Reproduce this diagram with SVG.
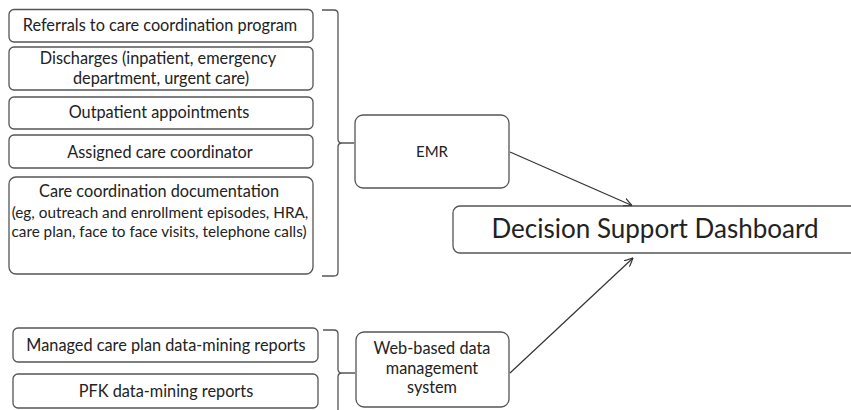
<svg xmlns="http://www.w3.org/2000/svg" width="851" height="410" viewBox="0 0 851 410">
<style>
.box{fill:#fff;stroke:#555;stroke-width:1.3}
.t{font-family:Lato,"Liberation Sans",sans-serif;fill:#222;text-anchor:middle;font-size:16.3px}
.s{font-size:15.3px}
.br{fill:none;stroke:#555;stroke-width:1.3}
.c{fill:none;stroke:#333;stroke-width:1.2}
</style>
<defs>
<marker id="ah" viewBox="0 0 10 10" refX="9.5" refY="5" markerWidth="9" markerHeight="9" orient="auto" markerUnits="userSpaceOnUse">
<path d="M0,0.5 L9.5,5 L0,9.5" fill="none" stroke="#333" stroke-width="1.3"/>
</marker>
</defs>
<rect width="851" height="410" fill="#fff"/>
<g id="n-referrals"><rect class="box" x="9" y="9.5" width="304" height="32.5" rx="5"/><text class="t" x="160" y="31">Referrals to care coordination program</text></g>
<g id="n-discharges"><rect class="box" x="9" y="47" width="304" height="43" rx="5"/><text class="t" x="158" y="64">Discharges (inpatient, emergency</text><text class="t" x="161" y="83.5">department, urgent care)</text></g>
<g id="n-outpatient"><rect class="box" x="9" y="97" width="304" height="32" rx="5"/><text class="t" x="159" y="118">Outpatient appointments</text></g>
<g id="n-assigned"><rect class="box" x="9" y="135" width="304" height="33" rx="5"/><text class="t" x="160" y="157.5">Assigned care coordinator</text></g>
<g id="n-documentation"><rect class="box" x="9" y="177" width="304" height="97" rx="7"/><text class="t" x="159" y="197">Care coordination documentation</text><text class="t s" x="160" y="217.5">(eg, outreach and enrollment episodes, HRA,</text><text class="t s" x="159" y="236.5">care plan, face to face visits, telephone calls)</text></g>
<g id="n-emr"><rect class="box" x="355" y="115" width="154" height="73" rx="8"/><text class="t" x="432" y="157" style="font-size:15px">EMR</text></g>
<g id="n-dashboard"><rect class="box" x="453" y="206" width="410" height="47" rx="7"/><text class="t" x="655" y="238" style="font-size:26px">Decision Support Dashboard</text></g>
<g id="n-managed"><rect class="box" x="13" y="328" width="305" height="34" rx="5"/><text class="t" x="166" y="351">Managed care plan data-mining reports</text></g>
<g id="n-pfk"><rect class="box" x="13" y="374" width="305" height="34" rx="5"/><text class="t" x="166" y="397">PFK data-mining reports</text></g>
<g id="n-web"><rect class="box" x="356" y="332" width="153" height="75" rx="8"/><text class="t" x="432" y="353.5">Web-based data</text><text class="t" x="432" y="373.5">management</text><text class="t" x="432" y="393">system</text></g>
<g id="connectors">
<path class="br" d="M322,10 L334,10 Q338,10 338,14 L338,139 Q338,143 342,143 L354,143 M342,143 Q338,143 338,147 L338,272 Q338,276 334,276 L322,276"/>
<path class="br" d="M323,330 L334,330 Q338,330 338,334 L338,369 Q338,373 342,373 L355,373 M342,373 Q338,373 338,377 L338,412"/>
<line class="c" x1="510" y1="152" x2="632" y2="205.5" marker-end="url(#ah)"/>
<line class="c" x1="510" y1="373" x2="633" y2="258" marker-end="url(#ah)"/>
</g>
</svg>
